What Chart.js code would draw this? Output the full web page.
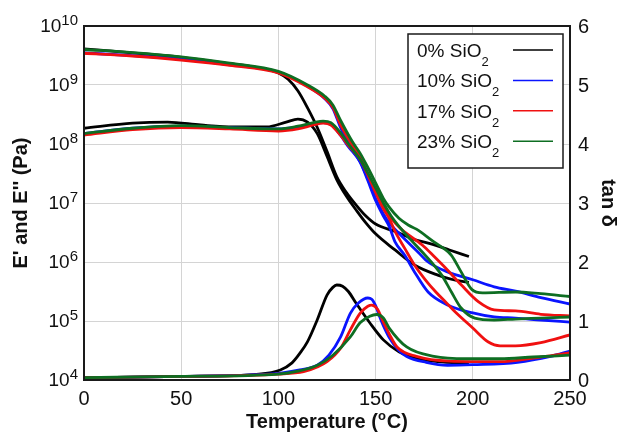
<!DOCTYPE html>
<html>
<head>
<meta charset="utf-8">
<title>DMA</title>
<script src="https://cdn.jsdelivr.net/npm/chart.js@4/dist/chart.umd.min.js"></script>
<style>
  html, body { margin: 0; padding: 0; background: #fff; }
  #wrap { width: 619px; height: 436px; }
</style>
</head>
<body>
<div id="wrap"><canvas id="dma" width="619" height="436"></canvas></div>
<script>
// ── Axis ticks ──
const xTicks = [0, 50, 100, 150, 200, 250];
const modulusTicks = [1e4, 1e5, 1e6, 1e7, 1e8, 1e9, 1e10];
const modulusPowers = ["4", "5", "6", "7", "8", "9", "10"];
const tanTicks = [0, 1, 2, 3, 4, 5, 6];

// ── Series: [temperature °C, value] ──
const seriesNames = ["0%", "10%", "17%", "23%"];
const seriesColors = ["#000000", "#0a14ff", "#f01010", "#0e6e22"];

// 0 % SiO2
const storage0 = [[0,4.1e9],[25,3.5e9],[50,2.95e9],[75,2.3e9],[90,1.95e9],[100,1.6e9],[105,1.25e9],[110,8e8],[115,4.1e8],[120,1.9e8],[125,7.5e7],[130,2.8e7],[135,1.5e7],[140,9.2e6],[145,6e6],[150,4.4e6],[160,3.3e6],[170,2.4e6],[178,2.05e6],[188,1.6e6],[198,1.24e6]];
const loss0 = [[0,1.85e8],[25,2.25e8],[43,2.35e8],[60,2.1e8],[77,1.95e8],[94,1.95e8],[104,2.35e8],[110,2.65e8],[115,2.35e8],[120,1.5e8],[125,6.2e7],[130,2.5e7],[135,1.3e7],[140,7.6e6],[145,4.6e6],[150,3e6],[160,1.6e6],[170,8.9e5],[182,6e5],[190,5e5],[198,4.5e5]];
const tan0 = [[0,0.04],[50,0.06],[90,0.1],[101,0.17],[107,0.29],[111,0.45],[115,0.65],[120,1.02],[125,1.44],[128,1.57],[130,1.61],[133,1.59],[136,1.5],[140,1.3],[147,0.97],[154,0.68],[162,0.48],[171,0.37],[182,0.31],[198,0.28]];

// 10 % SiO2
const storage10 = [[0,3.5e9],[25,3.15e9],[50,2.75e9],[75,2.2e9],[100,1.65e9],[115,9.5e8],[124,5.8e8],[128,4e8],[132,1.9e8],[138,8e7],[142,5e7],[146,2.6e7],[150,1.2e7],[154,6.5e6],[157,4.6e6],[161.5,3.2e6],[167,2.1e6],[172,1.45e6],[177,1.0e6],[187,6.8e5],[200,5e5],[211,3.8e5],[222,3.2e5],[235,2.5e5],[250,1.94e5]];
const loss10 = [[0,1.5e8],[25,1.85e8],[50,2.0e8],[75,1.9e8],[100,1.8e8],[110,1.95e8],[118,2.2e8],[123,2.3e8],[127,2.15e8],[132,1.4e8],[136,9e7],[142,5e7],[146,2.4e7],[150,1.1e7],[154,6e6],[157,4e6],[160,2.2e6],[165,1.3e6],[170,6.8e5],[177,3.1e5],[187,1.87e5],[200,1.37e5],[211,1.17e5],[222,1.12e5],[235,1.04e5],[250,9.6e4]];
const tan10 = [[0,0.04],[50,0.06],[95,0.1],[102,0.12],[111,0.17],[120,0.25],[126,0.42],[132,0.73],[137,1.13],[141,1.3],[146,1.39],[148,1.37],[150,1.26],[152,1.08],[154,0.92],[157,0.72],[162,0.5],[166,0.4],[176,0.3],[187,0.25],[200,0.26],[223,0.3],[240,0.4],[250,0.49]];

// 17 % SiO2
const storage17 = [[0,3.45e9],[25,3.1e9],[50,2.65e9],[75,2.15e9],[100,1.6e9],[115,9.3e8],[124,5.9e8],[128,4.2e8],[132,2.1e8],[138,9.5e7],[142,6e7],[146,3.2e7],[150,1.6e7],[154,8.5e6],[158,5.5e6],[163.6,3.5e6],[174,1.94e6],[180,1.25e6],[186,7.9e5],[194,4.1e5],[203,2.1e5],[211,1.54e5],[222,1.48e5],[235,1.3e5],[250,1.22e5]];
const loss17 = [[0,1.42e8],[25,1.75e8],[50,1.9e8],[75,1.8e8],[100,1.66e8],[110,1.8e8],[118,2.1e8],[123,2.25e8],[127,2.1e8],[132,1.4e8],[136,9.5e7],[142,5.5e7],[146,3e7],[150,1.5e7],[154,8e6],[157,5.5e6],[160,3.3e6],[165,1.7e6],[170,8.9e5],[176,4.8e5],[181,3.1e5],[186,2.1e5],[191,1.42e5],[200,7.6e4],[208,4.4e4],[214,3.8e4],[222,3.8e4],[235,4.3e4],[250,5.8e4]];
const tan17 = [[0,0.04],[50,0.06],[100,0.1],[113,0.14],[120,0.22],[125,0.31],[132,0.54],[137,0.85],[142,1.13],[146,1.25],[148,1.27],[151,1.2],[154,0.98],[157,0.78],[161,0.56],[171,0.4],[188,0.32],[214,0.31],[231,0.37],[250,0.46]];

// 23 % SiO2
const storage23 = [[0,4.0e9],[25,3.55e9],[50,3e9],[75,2.35e9],[100,1.7e9],[115,1.0e9],[124,6.4e8],[128,4.6e8],[132,2.5e8],[138,1.1e8],[142,7e7],[146,4e7],[150,2.2e7],[154,1.2e7],[157,8.5e6],[162,5.5e6],[167,4.2e6],[171,3.6e6],[180,2.2e6],[185,1.7e6],[189,1.3e6],[194,6.8e5],[199.6,3.4e5],[205,3e5],[222,3.1e5],[235,2.9e5],[250,2.6e5]];
const loss23 = [[0,1.5e8],[25,1.85e8],[50,2.05e8],[75,1.9e8],[100,1.8e8],[110,2e8],[118,2.3e8],[123,2.45e8],[127,2.3e8],[132,1.55e8],[136,1e8],[142,5.5e7],[146,3.2e7],[150,1.8e7],[154,1e7],[158,6e6],[161.5,4.2e6],[168,2.4e6],[174,1.48e6],[184,6e5],[189,3.1e5],[194,1.66e5],[201,1.12e5],[211,1.04e5],[222,1.08e5],[235,1.12e5],[250,1.17e5]];
const tan23 = [[0,0.04],[50,0.06],[100,0.1],[110,0.15],[120,0.25],[128,0.42],[137,0.73],[142,0.97],[147,1.08],[150.5,1.11],[154,1.05],[157,0.88],[166,0.56],[180,0.4],[197,0.36],[214,0.36],[231,0.39],[250,0.42]];

const storage = [storage0, storage10, storage17, storage23];
const loss = [loss0, loss10, loss17, loss23];
const tanDelta = [tan0, tan10, tan17, tan23];

const FONT = '"Liberation Sans", Arial, Helvetica, sans-serif';

function curve(points, color, axis, layer) {
  return {
    data: points,
    yAxisID: axis,
    borderColor: color,
    backgroundColor: color,
    borderWidth: 2.8,
    pointRadius: 0,
    tension: 0.4,
    cubicInterpolationMode: "monotone",
    fill: false,
    order: layer,
  };
}

var datasets = [];
seriesColors.forEach(function (c, i) {
  var layer = seriesColors.length - i; // later samples drawn on top
  datasets.push(curve(storage[i], c, "y", layer));
  datasets.push(curve(loss[i], c, "y", layer));
  datasets.push(curve(tanDelta[i], c, "y2", layer));
});

// ── Labels, frame and legend (text with super/subscripts) ──
const dmaText = {
  id: "dmaText",
  afterDraw: function (chart) {
    var ctx = chart.ctx;
    var a = chart.chartArea;
    var sx = chart.scales.x, sy = chart.scales.y, sy2 = chart.scales.y2;
    ctx.save();

    // plot frame
    ctx.strokeStyle = "#1a1a1a";
    ctx.lineWidth = 2;
    ctx.strokeRect(a.left, a.top, a.right - a.left, a.bottom - a.top);

    ctx.fillStyle = "#111";
    ctx.textBaseline = "alphabetic";

    // bottom ticks
    ctx.font = "20px " + FONT;
    ctx.textAlign = "center";
    xTicks.forEach(function (v) {
      ctx.fillText(String(v), sx.getPixelForValue(v), a.bottom + 25);
    });

    // right ticks
    ctx.textAlign = "left";
    tanTicks.forEach(function (v) {
      ctx.fillText(String(v), a.right + 8, sy2.getPixelForValue(v) + 7);
    });

    // left ticks, 10^n
    ctx.textAlign = "right";
    modulusTicks.forEach(function (v, i) {
      var py = sy.getPixelForValue(v);
      var pw = modulusPowers[i];
      ctx.font = "15px " + FONT;
      var ew = ctx.measureText(pw).width;
      ctx.fillText(pw, a.left - 6, py - 1);
      ctx.font = "19px " + FONT;
      ctx.fillText("10", a.left - 6 - ew, py + 6);
    });

    // x title: Temperature (°C) with raised o
    var cx = (a.left + a.right) / 2;
    var base = a.bottom + 48;
    ctx.textAlign = "left";
    ctx.font = "bold 20px " + FONT;
    var t1 = "Temperature (", t3 = "C)";
    var w1 = ctx.measureText(t1).width, w3 = ctx.measureText(t3).width;
    ctx.font = "bold 13px " + FONT;
    var w2 = ctx.measureText("o").width + 1;
    var x0 = cx - (w1 + w2 + w3) / 2;
    ctx.font = "bold 20px " + FONT;
    ctx.fillText(t1, x0, base);
    ctx.fillText(t3, x0 + w1 + w2, base);
    ctx.font = "bold 13px " + FONT;
    ctx.fillText("o", x0 + w1, base - 8);

    // left title
    var cy = (a.top + a.bottom) / 2;
    ctx.save();
    ctx.translate(21, cy);
    ctx.rotate(-Math.PI / 2);
    ctx.textAlign = "center";
    ctx.textBaseline = "middle";
    ctx.font = "bold 20px " + FONT;
    ctx.fillText("E' and E'' (Pa)", 0, 0);
    ctx.restore();

    // right title
    ctx.save();
    ctx.translate(608, cy);
    ctx.rotate(Math.PI / 2);
    ctx.textAlign = "center";
    ctx.textBaseline = "middle";
    ctx.font = "bold 20px " + FONT;
    ctx.fillText("tan \u03b4", 0, 0);
    ctx.restore();

    // legend box
    var bx = a.right - 162, by = a.top + 8, bw = 155, bh = 134;
    ctx.fillStyle = "#fff";
    ctx.fillRect(bx, by, bw, bh);
    ctx.strokeStyle = "#1a1a1a";
    ctx.lineWidth = 1.5;
    ctx.strokeRect(bx, by, bw, bh);

    seriesNames.forEach(function (name, i) {
      var yb = by + 23 + i * 30.4;
      var label = name + " SiO";
      ctx.fillStyle = "#111";
      ctx.textAlign = "left";
      ctx.textBaseline = "alphabetic";
      ctx.font = "19px " + FONT;
      ctx.fillText(label, bx + 9, yb);
      var lw = ctx.measureText(label).width;
      ctx.font = "13px " + FONT;
      ctx.fillText("2", bx + 9 + lw, yb + 9);

      ctx.strokeStyle = seriesColors[i];
      ctx.lineWidth = 1.5;
      ctx.beginPath();
      ctx.moveTo(bx + 105, yb - 7);
      ctx.lineTo(bx + 145, yb - 7);
      ctx.stroke();
    });

    ctx.restore();
  },
};

new Chart(document.getElementById("dma").getContext("2d"), {
  type: "line",
  data: { datasets: datasets },
  options: {
    responsive: false,
    animation: false,
    events: [],
    layout: { padding: { top: 26, left: 0, right: 0, bottom: 0 } },
    plugins: { legend: { display: false }, tooltip: { enabled: false } },
    scales: {
      x: {
        type: "linear",
        min: 0,
        max: 250,
        afterBuildTicks: function (s) { s.ticks = xTicks.map(function (v) { return { value: v }; }); },
        afterFit: function (s) { s.height = 56; },
        ticks: { display: false },
        grid: { color: "#d4d4d4", lineWidth: 1, drawTicks: false },
        border: { display: false },
      },
      y: {
        type: "logarithmic",
        position: "left",
        min: 1e4,
        max: 1e10,
        afterBuildTicks: function (s) { s.ticks = modulusTicks.map(function (v) { return { value: v }; }); },
        afterFit: function (s) { s.width = 84; },
        ticks: { display: false },
        grid: { color: "#d4d4d4", lineWidth: 1, drawTicks: false },
        border: { display: false },
      },
      y2: {
        type: "linear",
        position: "right",
        min: 0,
        max: 6,
        afterBuildTicks: function (s) { s.ticks = tanTicks.map(function (v) { return { value: v }; }); },
        afterFit: function (s) { s.width = 49; },
        ticks: { display: false },
        grid: { display: false, drawTicks: false },
        border: { display: false },
      },
    },
  },
  plugins: [dmaText],
});
</script>
</body>
</html>
